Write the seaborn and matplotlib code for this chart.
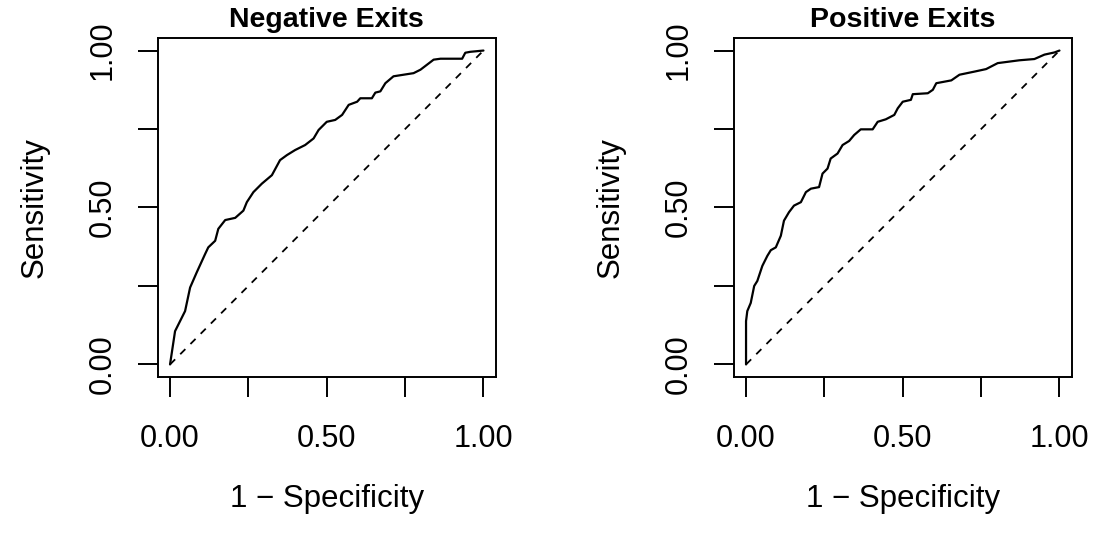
import matplotlib
matplotlib.use("Agg")
import matplotlib.pyplot as plt
import seaborn as sns
import pandas as pd

# ROC points (1 - specificity, sensitivity)
neg_fpr = [0.0, 0.016, 0.032, 0.048, 0.064, 0.085, 0.112, 0.122, 0.144, 0.154,
           0.176, 0.208, 0.234, 0.245, 0.266, 0.293, 0.325, 0.351, 0.373, 0.399,
           0.431, 0.458, 0.474, 0.5, 0.527, 0.549, 0.57, 0.597, 0.607, 0.644,
           0.655, 0.671, 0.687, 0.713, 0.745, 0.777, 0.799, 0.82, 0.841, 0.863,
           0.932, 0.942, 0.958, 1.0]
neg_tpr = [0.0, 0.106, 0.138, 0.17, 0.245, 0.293, 0.352, 0.373, 0.394, 0.432,
           0.46, 0.467, 0.49, 0.517, 0.549, 0.576, 0.603, 0.651, 0.667, 0.683,
           0.699, 0.72, 0.747, 0.773, 0.779, 0.795, 0.827, 0.837, 0.848, 0.848,
           0.866, 0.87, 0.896, 0.918, 0.923, 0.928, 0.939, 0.955, 0.971, 0.974,
           0.974, 0.993, 0.996, 1.0]

pos_fpr = [0.0, 0.0, 0.004, 0.015, 0.026, 0.036, 0.052, 0.068, 0.079, 0.095,
           0.111, 0.121, 0.137, 0.153, 0.175, 0.191, 0.207, 0.233, 0.244, 0.26,
           0.27, 0.292, 0.308, 0.329, 0.345, 0.366, 0.404, 0.42, 0.446, 0.473,
           0.484, 0.5, 0.526, 0.532, 0.58, 0.596, 0.607, 0.655, 0.681, 0.729,
           0.766, 0.803, 0.872, 0.92, 0.952, 0.984, 1.0]
pos_tpr = [0.0, 0.138, 0.17, 0.196, 0.25, 0.266, 0.314, 0.346, 0.364, 0.373,
           0.41, 0.458, 0.485, 0.506, 0.517, 0.549, 0.56, 0.565, 0.608, 0.624,
           0.656, 0.672, 0.699, 0.712, 0.731, 0.749, 0.749, 0.773, 0.781, 0.795,
           0.816, 0.837, 0.843, 0.861, 0.864, 0.875, 0.896, 0.905, 0.923, 0.933,
           0.941, 0.96, 0.969, 0.973, 0.987, 0.994, 1.0]

titles = ["Negative Exits", "Positive Exits"]
ticks = [0, 0.25, 0.5, 0.75, 1.0]
tick_labels = ["0.00", "", "0.50", "", "1.00"]

sns.set_style("ticks")
plt.rcParams["font.family"] = ["Liberation Sans", "DejaVu Sans"]
plt.rcParams["text.color"] = "black"
plt.rcParams["axes.labelcolor"] = "black"
plt.rcParams["xtick.color"] = "black"
plt.rcParams["ytick.color"] = "black"

fig = plt.figure(figsize=(10.94, 5.35), dpi=100)
lefts = [0.14397, 0.67048]
curves = [(neg_fpr, neg_tpr), (pos_fpr, pos_tpr)]

for left, title, (fpr, tpr) in zip(lefts, titles, curves):
    ax = fig.add_axes([left, 0.29533, 0.30941, 0.63364])
    df = pd.DataFrame({"fpr": fpr, "tpr": tpr})
    sns.lineplot(data=df, x="fpr", y="tpr", ax=ax, color="black",
                 linewidth=1.6, estimator=None, sort=False)
    sns.lineplot(x=[0, 1], y=[0, 1], ax=ax, color="black", linewidth=1.3,
                 linestyle=(0, (4, 4)), estimator=None)
    ax.set_xlim(-0.04, 1.04)
    ax.set_ylim(-0.04, 1.04)
    ax.set_xticks(ticks)
    ax.set_xticklabels(tick_labels)
    ax.set_yticks(ticks)
    ax.set_yticklabels(tick_labels, rotation=90, va="center")
    ax.tick_params(axis="both", length=14.5, width=1.4, labelsize=22,
                   color="black", labelcolor="black")
    ax.tick_params(axis="x", pad=19)
    ax.tick_params(axis="y", pad=14)
    for sp in ax.spines.values():
        sp.set_visible(True)
        sp.set_linewidth(1.4)
        sp.set_color("black")
    ax.set_title(title, fontsize=20.5, fontweight="bold", pad=8, color="black")
    ax.set_xlabel("1 \u2212 Specificity", fontsize=22.5)
    ax.set_ylabel("Sensitivity", fontsize=22.5)
    ax.xaxis.set_label_coords(0.5, -0.36)
    ax.xaxis.label.set_va("center")
    ax.yaxis.set_label_coords(-0.362, 0.5)
    ax.yaxis.label.set_va("center")

fig.savefig("out.png", dpi=100)
